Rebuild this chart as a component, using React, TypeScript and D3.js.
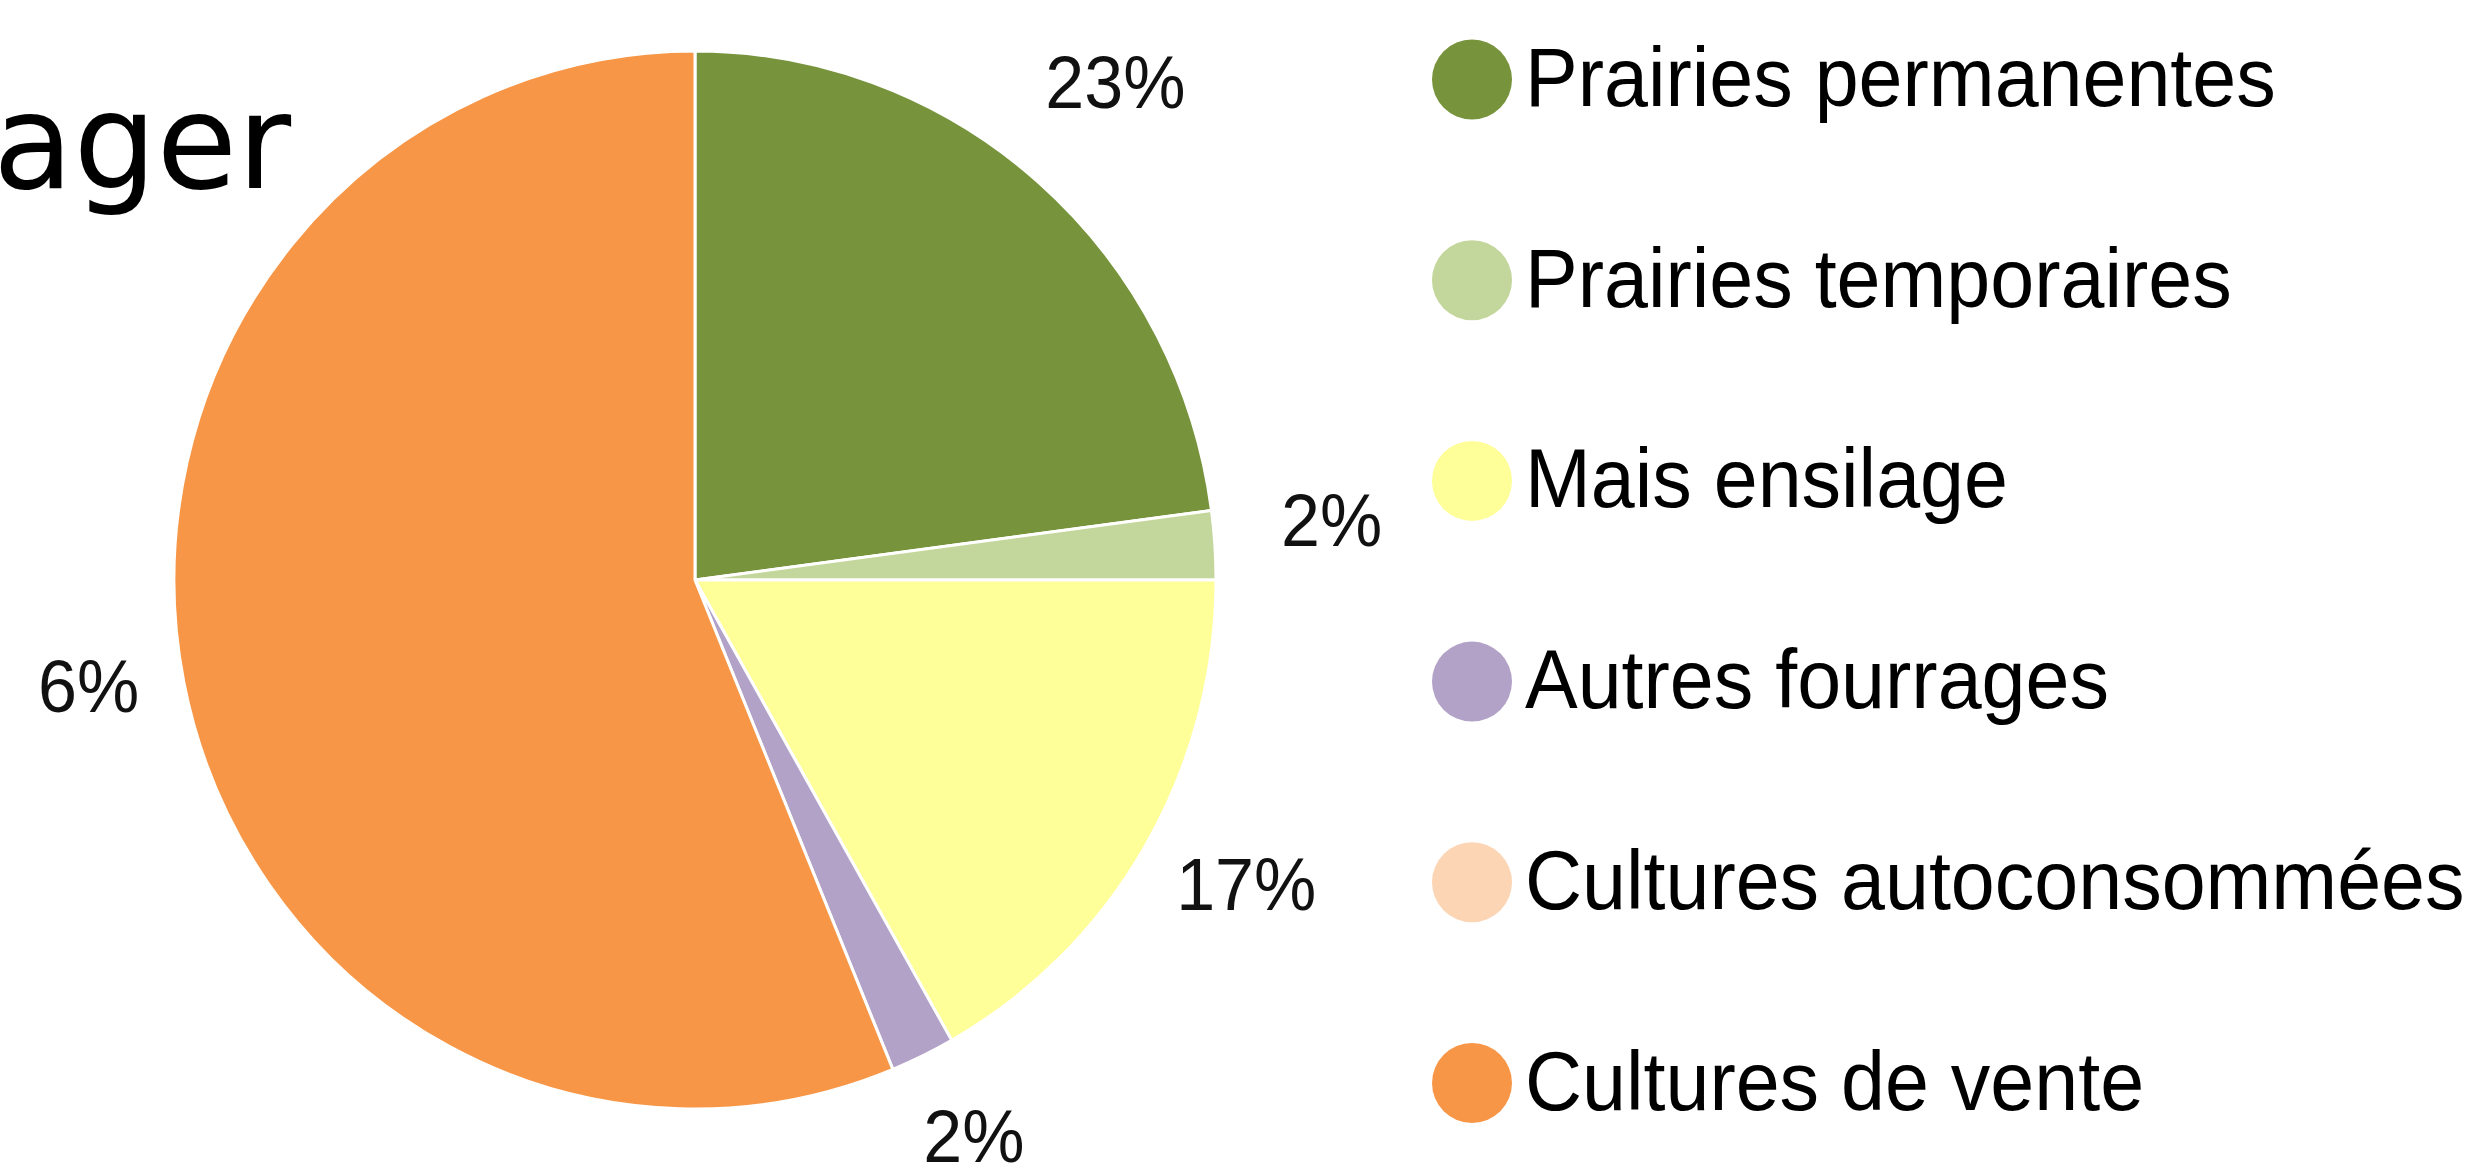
import React from "react";
import * as d3 from "d3";

const categories = [
  "Prairies permanentes",
  "Prairies temporaires",
  "Mais ensilage",
  "Autres fourrages",
  "Cultures autoconsommées",
  "Cultures de vente",
];
const values = [22.9, 2.1, 16.8, 2.0, 0, 56.2];
const colors = ["#77933c", "#c3d69b", "#ffff99", "#b2a2c7", "#fcd5b5", "#f79646"];
const titleText = "ager";

const W = 2475;
const H = 1164;
const CX = 695;
const CY = 580;
const RX = 521;
const RY = 529;
const LABEL_R = 638;
const LABEL_DY = -18;
const LABEL_FS = 70;
const TEXT_STRETCH = 1.05;
const LEG_X = 1472;
const LEG_Y0 = 79.5;
const LEG_STEP = 200.7;
const LEG_FS = 79;

export default function App() {
  const data = categories.map((c, i) => ({ name: c, value: values[i], color: colors[i] }));
  const pie = d3.pie<any>().sort(null).value((d: any) => d.value);
  const arcs = pie(data);
  const arc = d3.arc<any>().innerRadius(0).outerRadius(RX);
  const labelArc = d3.arc<any>().innerRadius(LABEL_R).outerRadius(LABEL_R);
  const sy = RY / RX;
  const legendY = d3.scaleLinear().domain([0, 1]).range([LEG_Y0, LEG_Y0 + LEG_STEP]);

  return (
    <svg
      width={W}
      height={H}
      style={{ position: "absolute", left: 0, top: 0, display: "block", background: "#fff" }}
    >
      <defs>
        <clipPath id="labelClip">
          <rect x={38} y={0} width={W - 38} height={H} />
        </clipPath>
      </defs>
      <rect x={0} y={0} width={W} height={H} fill="#fff" />
      <g transform={`translate(${CX},${CY}) scale(1,${sy})`}>
        {arcs.map((a, i) =>
          a.value > 0 ? (
            <path key={i} d={arc(a) || ""} fill={a.data.color} stroke="#fff" strokeWidth={3} strokeLinejoin="round" />
          ) : null
        )}
      </g>
      <g clipPath="url(#labelClip)">
        <g transform={`translate(${CX},${CY})`}>
          {arcs.map((a, i) => {
            if (a.value <= 0) return null;
            const [x, y] = labelArc.centroid(a as any);
            const by = y + LABEL_DY + LABEL_FS * 0.358 * TEXT_STRETCH;
            return (
              <text
                key={i}
                transform={`translate(${x},${by}) scale(1,${TEXT_STRETCH})`}
                textAnchor="middle"
                fontFamily="'Liberation Sans', Arial, sans-serif"
                fontSize={LABEL_FS}
                fill="#111"
              >
                {Math.round(a.data.value) + "%"}
              </text>
            );
          })}
        </g>
      </g>
      <text
        x={291}
        y={188}
        textAnchor="end"
        fontFamily="'DejaVu Sans', sans-serif"
        fontSize={131}
        fill="#000"
      >
        {titleText}
      </text>
      <g>
        {data.map((d, i) => {
          const cy = legendY(i);
          return (
            <g key={i}>
              <ellipse cx={LEG_X} cy={cy} rx={40} ry={40} fill={d.color} />
              <text
                transform={`translate(${LEG_X + 53},${cy + 26.5}) scale(1,${TEXT_STRETCH})`}
                fontFamily="'Liberation Sans', Arial, sans-serif"
                fontSize={LEG_FS}
                fill="#000"
              >
                {d.name}
              </text>
            </g>
          );
        })}
      </g>
    </svg>
  );
}
